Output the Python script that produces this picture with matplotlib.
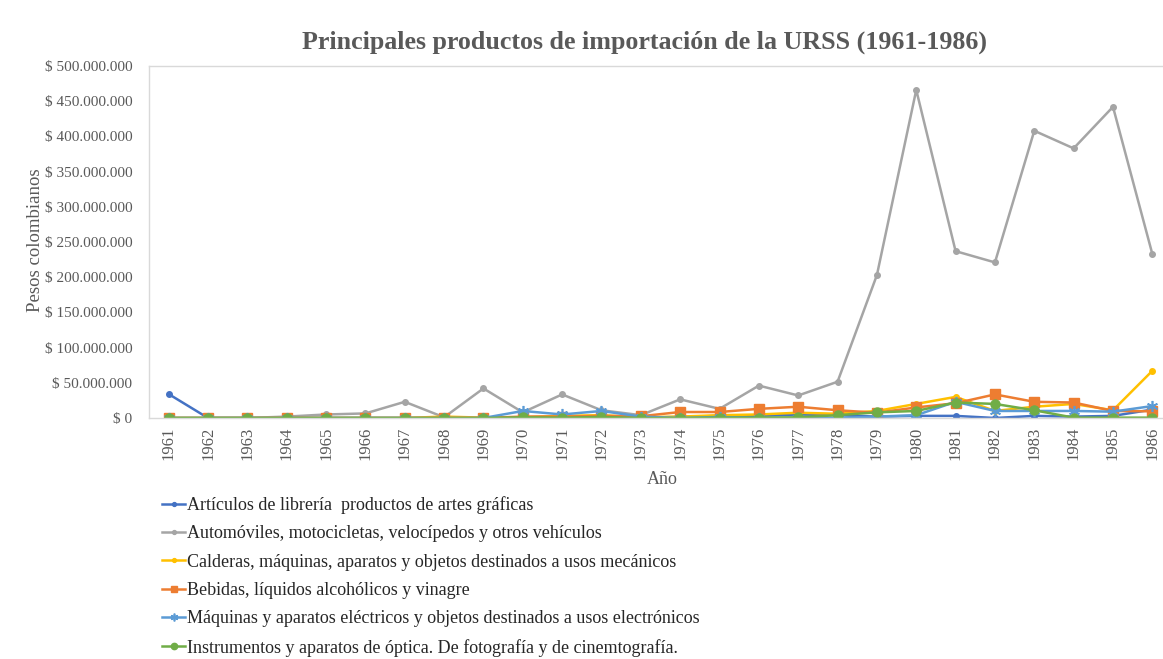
import matplotlib
matplotlib.use("Agg")
import matplotlib.pyplot as plt
from matplotlib.ticker import FuncFormatter, MultipleLocator

years = [str(y) for y in range(1961, 1987)]

articulos = [34, 0, 0, 0, 0, 0, 0, 0, 0, 1, 2, 0.5, 0.5, 1.5, 3, 3, 5, 4,
             2, 3, 3, 0, 3, 2, 3, 12]
automoviles = [0, 0, 0, 2, 5, 6.5, 23, 1, 42, 8, 33.5, 11, 4, 26.5, 13, 46, 32, 51.5,
               203, 466, 237, 221, 408, 383, 442, 233]
calderas = [0, 0, 0, 0, 0, 0, 0, 2, 0.5, 1, 3, 4, 1, 2, 4, 5, 7.5, 6,
            10, 20, 30, 10, 16, 20, 11, 67]
bebidas = [0, 0, 0, 0, 0, 0, 0, 0, 0, 2, 2, 3, 2.5, 8.5, 8.5, 13, 16, 11,
           7.5, 15, 21, 33.5, 23, 22, 10, 9.5]
maquinas_elec = [0, 0, 0, 0, 0, 0, 0, 0, 0, 10, 5, 10, 2, 0, 1.5, 0, 0, 0,
                 2, 4, 23, 10, 10, 10, 9, 17]
instrumentos = [0, 0, 0, 0, 0, 0, 0, 0, 0, 1, 0.5, 1.5, 0, 0, 0.5, 0.5, 1, 4,
                8, 10, 22, 20, 11, 0.5, 0.5, 0.5]

labels = [
    "Artículos de librería  productos de artes gráficas",
    "Automóviles, motocicletas, velocípedos y otros vehículos",
    "Calderas, máquinas, aparatos y objetos destinados a usos mecánicos",
    "Bebidas, líquidos alcohólicos y vinagre",
    "Máquinas y aparatos eléctricos y objetos destinados a usos electrónicos",
    "Instrumentos y aparatos de óptica. De fotografía y de cinemtografía.",
]
title = "Principales productos de importación de la URSS (1961-1986)"

series = [articulos, automoviles, calderas, bebidas, maquinas_elec, instrumentos]
colors = ["#4472C4", "#A5A5A5", "#FFC000", "#ED7D31", "#5B9BD5", "#70AD47"]
markers = ["o", "o", "o", "s", (6, 2, 0), "o"]
msizes = [4, 4, 4, 7, 8, 6.5]

plt.rcParams["font.family"] = ["Liberation Serif", "DejaVu Serif"]

W, H = 1163, 659
fig = plt.figure(figsize=(W / 100, H / 100), dpi=100)
left, right, top, bottom = 149, 1172, 66, 418
ax = fig.add_axes([left / W, 1 - bottom / H, (right - left) / W, (bottom - top) / H])

x = list(range(len(years)))
for vals, c, m, ms, lab in zip(series, colors, markers, msizes, labels):
    ax.plot(x, [v * 1e6 for v in vals], color=c, lw=1.8, marker=m, ms=ms,
            mec=c, mfc=c, mew=1.2 if m not in ("o", "s") else 1.0, label=lab)

ax.set_xlim(-0.5, len(years) - 0.5)
ax.set_ylim(0, 500e6)
ax.yaxis.set_major_locator(MultipleLocator(50e6))


def fmt(v, pos):
    if v == 0:
        return "$ 0"
    return "$ " + f"{int(round(v)):,}".replace(",", ".")


ax.yaxis.set_major_formatter(FuncFormatter(fmt))
ax.set_xticks(x)
ax.set_xticklabels(years, rotation=90)
ax.tick_params(axis="both", length=0, colors="#595959")
ax.tick_params(axis="x", pad=6, labelsize=12)
ax.tick_params(axis="y", pad=12, labelsize=11)

for s in ["left", "top", "bottom", "right"]:
    ax.spines[s].set_color("#D9D9D9")
    ax.spines[s].set_linewidth(1.0)

fig.text(35 / W, 1 - 240 / H, "Pesos colombianos", rotation=90, ha="center",
         va="center", fontsize=13.5, color="#595959")
fig.text(662 / W, 1 - 479 / H, "Año", ha="center", va="center",
         fontsize=13, color="#595959")
fig.text(645 / W, 1 - 42 / H, title, ha="center", va="center", fontsize=18.7,
         fontweight="bold", color="#595959")

handles, labs = ax.get_legend_handles_labels()
leg = fig.legend(handles, labs, loc="upper left",
                 bbox_to_anchor=(162 / W, 1 - 496 / H), frameon=False,
                 fontsize=13, handlelength=1.3, handletextpad=0.1,
                 labelspacing=0.63, borderpad=0, borderaxespad=0,
                 markerscale=0.7)
for t in leg.get_texts():
    t.set_color("#262626")

fig.savefig("out.png", dpi=100)
